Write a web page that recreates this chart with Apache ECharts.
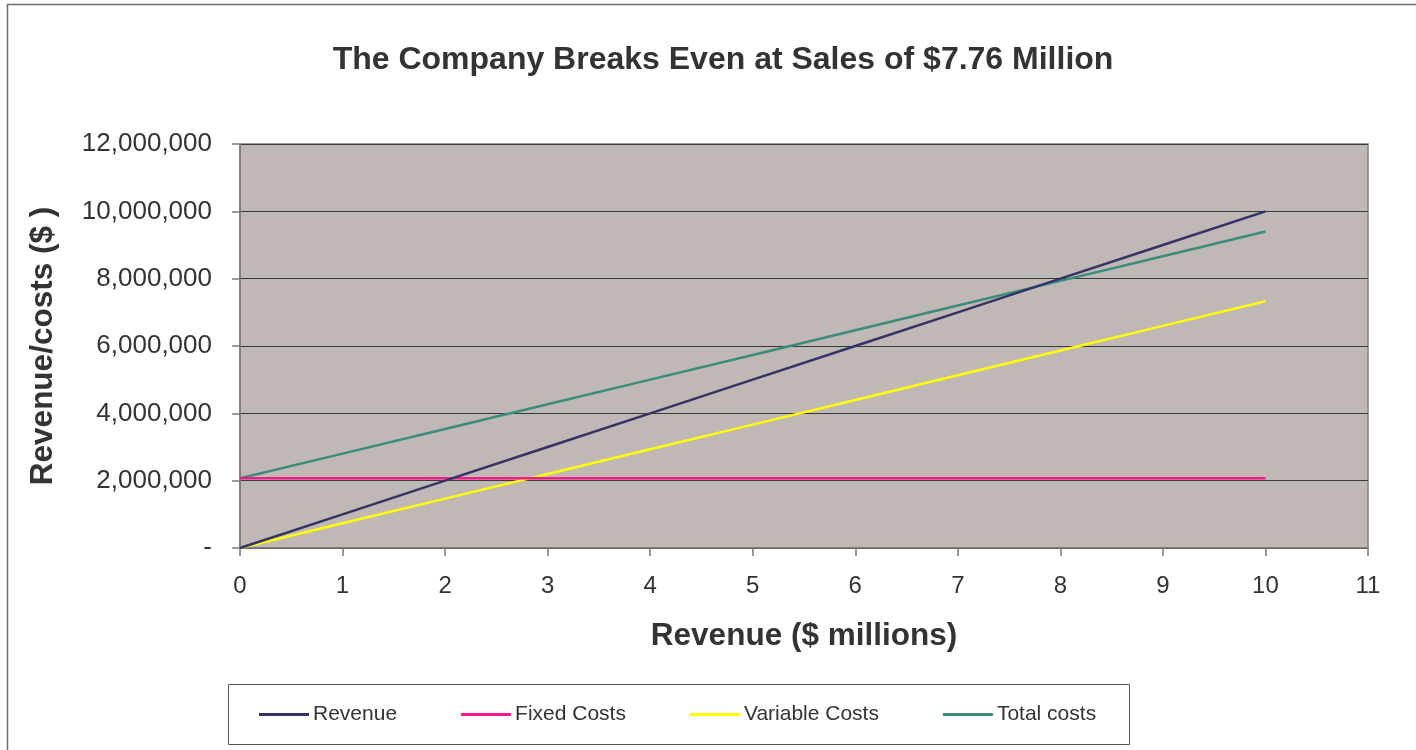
<!DOCTYPE html>
<html>
<head>
<meta charset="utf-8">
<script src="https://cdn.jsdelivr.net/npm/echarts@6/dist/echarts.min.js"></script>
<style>
  html, body { margin: 0; padding: 0; background: #ffffff; }
  #chart { width: 1416px; height: 750px; }
</style>
</head>
<body>
<div id="chart"></div>
<script>
// Sales level in $ millions
const salesMillions = [0, 1, 2, 3, 4, 5, 6, 7, 8, 9, 10];

// Revenue and cost lines in $
const revenue = [0, 1000000, 2000000, 3000000, 4000000, 5000000, 6000000, 7000000, 8000000, 9000000, 10000000];
const fixedCosts = [2070000, 2070000, 2070000, 2070000, 2070000, 2070000, 2070000, 2070000, 2070000, 2070000, 2070000];
const variableCosts = [0, 733000, 1466000, 2199000, 2932000, 3665000, 4398000, 5131000, 5864000, 6597000, 7330000];
const totalCosts = [2070000, 2803000, 3536000, 4269000, 5002000, 5735000, 6468000, 7201000, 7934000, 8667000, 9400000];

const seriesNames = ['Revenue', 'Fixed Costs', 'Variable Costs', 'Total costs'];
const seriesColors = ['#333366', '#FF1A8C', '#FFFF00', '#3A8C7C'];

const FONT = '"Liberation Sans", Arial, Helvetica, sans-serif';

function pairs(values) {
  return salesMillions.map((x, i) => [x, values[i]]);
}

const chart = echarts.init(document.getElementById('chart'), null, { renderer: 'canvas' });

chart.setOption({
  backgroundColor: '#ffffff',
  animation: false,
  title: {
    text: 'The Company Breaks Even at Sales of $7.76 Million',
    left: 718,
    textAlign: 'center',
    top: 39,
    textStyle: { fontFamily: FONT, fontSize: 32, fontWeight: 'bold', color: '#333333' }
  },
  graphic: [
    {
      type: 'rect',
      shape: { x: 7.5, y: 4.5, width: 1420, height: 760 },
      style: { fill: 'none', stroke: '#6e6e6e', lineWidth: 1.5 },
      silent: true,
      z: -1
    },
    {
      type: 'rect',
      shape: { x: 228.5, y: 684.5, width: 901, height: 60 },
      style: { fill: '#ffffff', stroke: '#555555', lineWidth: 1 },
      silent: true,
      z: 0
    }
  ],
  legend: {
    data: seriesNames,
    left: 259,
    top: 704,
    itemWidth: 50,
    itemHeight: 3,
    itemGap: 64,
    padding: 0,
    icon: 'rect',
    textStyle: { fontFamily: FONT, fontSize: 21, color: '#333333', padding: [0, 0, 0, -1] },
    z: 5
  },
  grid: {
    left: 240,
    right: 48,
    top: 144,
    bottom: 202,
    show: true,
    backgroundColor: '#C0B8B5',
    borderColor: '#857F7C',
    borderWidth: 1.5
  },
  xAxis: {
    type: 'value',
    min: 0,
    max: 11,
    interval: 1,
    name: 'Revenue ($ millions)',
    nameLocation: 'middle',
    nameGap: 72,
    nameTextStyle: { fontFamily: FONT, fontSize: 31.5, fontWeight: 'bold', color: '#333333' },
    axisLine: { show: true, lineStyle: { color: '#7a7a7a', width: 1.5 } },
    axisTick: { show: true, inside: false, length: 8, lineStyle: { color: '#7a7a7a', width: 1.5 } },
    axisLabel: { fontFamily: FONT, fontSize: 24, color: '#333333', margin: 26 },
    splitLine: { show: false }
  },
  yAxis: {
    type: 'value',
    min: 0,
    max: 12000000,
    interval: 2000000,
    name: 'Revenue/costs ($ )',
    nameLocation: 'middle',
    nameGap: 181,
    nameTextStyle: { fontFamily: FONT, fontSize: 31.5, fontWeight: 'bold', color: '#333333' },
    axisLine: { show: true, lineStyle: { color: '#7a7a7a', width: 1.5 } },
    axisTick: { show: true, inside: false, length: 8, lineStyle: { color: '#7a7a7a', width: 1.5 } },
    axisLabel: {
      fontFamily: FONT,
      fontSize: 26,
      color: '#333333',
      margin: 28,
      formatter: v => (v === 0 ? '-' : v.toLocaleString('en-US'))
    },
    splitLine: { show: true, lineStyle: { color: '#3a3a3a', width: 1 } }
  },
  series: [
    { name: seriesNames[0], type: 'line', data: pairs(revenue), color: seriesColors[0], showSymbol: false, symbol: 'none', lineStyle: { width: 2.5 }, z: 4 },
    { name: seriesNames[1], type: 'line', data: pairs(fixedCosts), color: seriesColors[1], showSymbol: false, symbol: 'none', lineStyle: { width: 2.5 }, z: 3 },
    { name: seriesNames[2], type: 'line', data: pairs(variableCosts), color: seriesColors[2], showSymbol: false, symbol: 'none', lineStyle: { width: 2.5 }, z: 2 },
    { name: seriesNames[3], type: 'line', data: pairs(totalCosts), color: seriesColors[3], showSymbol: false, symbol: 'none', lineStyle: { width: 2.5 }, z: 1 }
  ]
});
</script>
</body>
</html>
